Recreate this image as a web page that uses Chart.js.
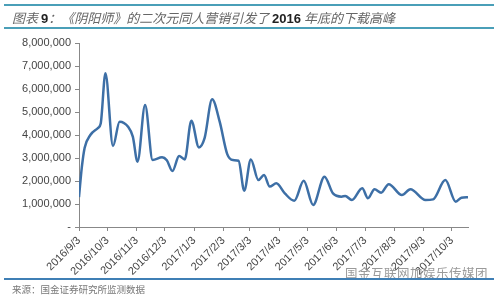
<!DOCTYPE html>
<html lang="zh">
<head>
    <meta charset="UTF-8">
    <title>阴阳师下载量</title>
    <script src="https://cdn.jsdelivr.net/npm/chart.js"></script>
    <style>
        body { margin: 0; background: #fff; }
        #wrap { position: relative; width: 500px; height: 296px; overflow: hidden; }
        #chart { position: absolute; left: 0; top: 0; }
        .rule { position: absolute; left: 4px; width: 490px; height: 2px; background: #4a9fb8; }
        #title { position: absolute; left: 12px; top: 8px; font: 13px "Noto Sans CJK SC", sans-serif; color: #666; font-style: italic; white-space: nowrap; }
        #title b { color: #222; font-family: "Liberation Sans", Arial, sans-serif; font-style: normal; }
        #source { position: absolute; left: 12px; top: 282px; font: 9.5px "Noto Sans CJK SC", sans-serif; color: #777; }
        #mark { position: absolute; left: 345px; top: 263px; font: 12.5px "Noto Sans CJK SC", sans-serif; color: #9a9a9a; letter-spacing: 0.5px; }
    </style>
</head>
<body>
<div id="wrap">
    <canvas id="chart" width="500" height="296"></canvas>
    <div class="rule" style="top:4px"></div>
    <div id="title">图表 <b>9</b>：《阴阳师》的二次元同人营销引发了 <b>2016</b> 年底的下载高峰</div>
    <div class="rule" style="top:27px"></div>
    <div id="mark">国金互联网加娱乐传媒团</div>
    <div class="rule" style="top:278px; height:1.5px; background:#3f7fb5"></div>
    <div id="source">来源：国金证券研究所监测数据</div>
</div>
<script>
    // 数据（读取自原图，日期 -> 下载量）
    const dates = [
        '2016-09-03', '2016-09-06', '2016-09-09', '2016-09-15', '2016-09-23', '2016-09-26',
        '2016-10-01', '2016-10-09', '2016-10-16', '2016-10-25', '2016-10-30', '2016-11-04',
        '2016-11-12', '2016-11-20', '2016-11-30', '2016-12-05', '2016-12-11', '2016-12-18',
        '2016-12-24', '2016-12-31', '2017-01-08', '2017-01-14', '2017-01-22', '2017-01-30',
        '2017-02-07', '2017-02-13', '2017-02-19', '2017-02-25', '2017-03-04', '2017-03-12',
        '2017-03-18', '2017-03-24', '2017-03-31', '2017-04-09', '2017-04-19', '2017-04-29',
        '2017-05-09', '2017-05-21', '2017-05-30', '2017-06-08', '2017-06-12', '2017-06-19',
        '2017-06-30', '2017-07-06', '2017-07-13', '2017-07-20', '2017-07-28', '2017-08-11',
        '2017-08-20', '2017-09-05', '2017-09-13', '2017-09-26', '2017-10-07', '2017-10-13',
        '2017-10-20'
    ];
    const downloads = [
        1300000, 2600000, 3450000, 4000000, 4300000, 4500000,
        6680000, 3520000, 4580000, 4360000, 3930000, 2840000,
        5300000, 2910000, 3030000, 2900000, 2430000, 3090000,
        2940000, 4620000, 3460000, 3860000, 5550000, 4580000,
        3170000, 2910000, 2880000, 1580000, 2940000, 2040000,
        2260000, 1760000, 1900000, 1460000, 1140000, 2010000,
        960000, 2190000, 1460000, 1320000, 1350000, 1170000,
        1680000, 1250000, 1640000, 1490000, 1860000, 1390000,
        1640000, 1170000, 1200000, 2040000, 1100000, 1270000,
        1290000
    ];
    const tickLabels = [
        '2016/9/3', '2016/10/3', '2016/11/3', '2016/12/3', '2017/1/3', '2017/2/3', '2017/3/3',
        '2017/4/3', '2017/5/3', '2017/6/3', '2017/7/3', '2017/8/3', '2017/9/3', '2017/10/3'
    ];

    const DAY = 86400000;
    const start = Date.parse('2016-09-03');
    const dayOf = s => Math.round((Date.parse(s.replace(/\//g, '-').replace(/-(\d)(?=-|$)/g, '-0$1')) - start) / DAY);
    const tickDays = tickLabels.map(dayOf);
    const points = dates.map((d, i) => ({ x: dayOf(d), y: downloads[i] }));

    const ctx = document.getElementById('chart').getContext('2d');
    new Chart(ctx, {
        type: 'line',
        data: {
            datasets: [{
                data: points,
                borderColor: '#3d6fa6',
                borderWidth: 2.5,
                pointRadius: 0,
                cubicInterpolationMode: 'monotone',
                fill: false,
            }],
        },
        options: {
            responsive: false,
            animation: false,
            layout: { padding: { left: 12, right: 32, top: 43, bottom: 0 } },
            plugins: { legend: { display: false }, tooltip: { enabled: false } },
            scales: {
                x: {
                    type: 'linear',
                    min: 0,
                    max: 412,
                    afterBuildTicks: scale => {
                        scale.ticks = tickDays.map(v => ({ value: v }));
                    },
                    afterFit: scale => { scale.height = 69; },
                    grid: { display: true, drawOnChartArea: false, drawTicks: true, tickLength: 4, color: '#888' },
                    border: { display: true, color: '#888' },
                    ticks: {
                        autoSkip: false,
                        maxRotation: 45,
                        minRotation: 45,
                        color: '#444',
                        font: { family: 'Liberation Sans', size: 11 },
                        callback: v => tickLabels[tickDays.indexOf(v)] || '',
                    },
                },
                y: {
                    min: 0,
                    max: 8000000,
                    afterFit: scale => { scale.width = 67; },
                    grid: { display: true, drawOnChartArea: false, drawTicks: true, tickLength: 4, color: '#888' },
                    border: { display: true, color: '#888' },
                    ticks: {
                        stepSize: 1000000,
                        color: '#444',
                        padding: 4,
                        font: { family: 'Liberation Sans', size: 11 },
                        callback: v => v === 0 ? '-' : v.toLocaleString('en-US'),
                    },
                },
            },
        },
    });
</script>
</body>
</html>
